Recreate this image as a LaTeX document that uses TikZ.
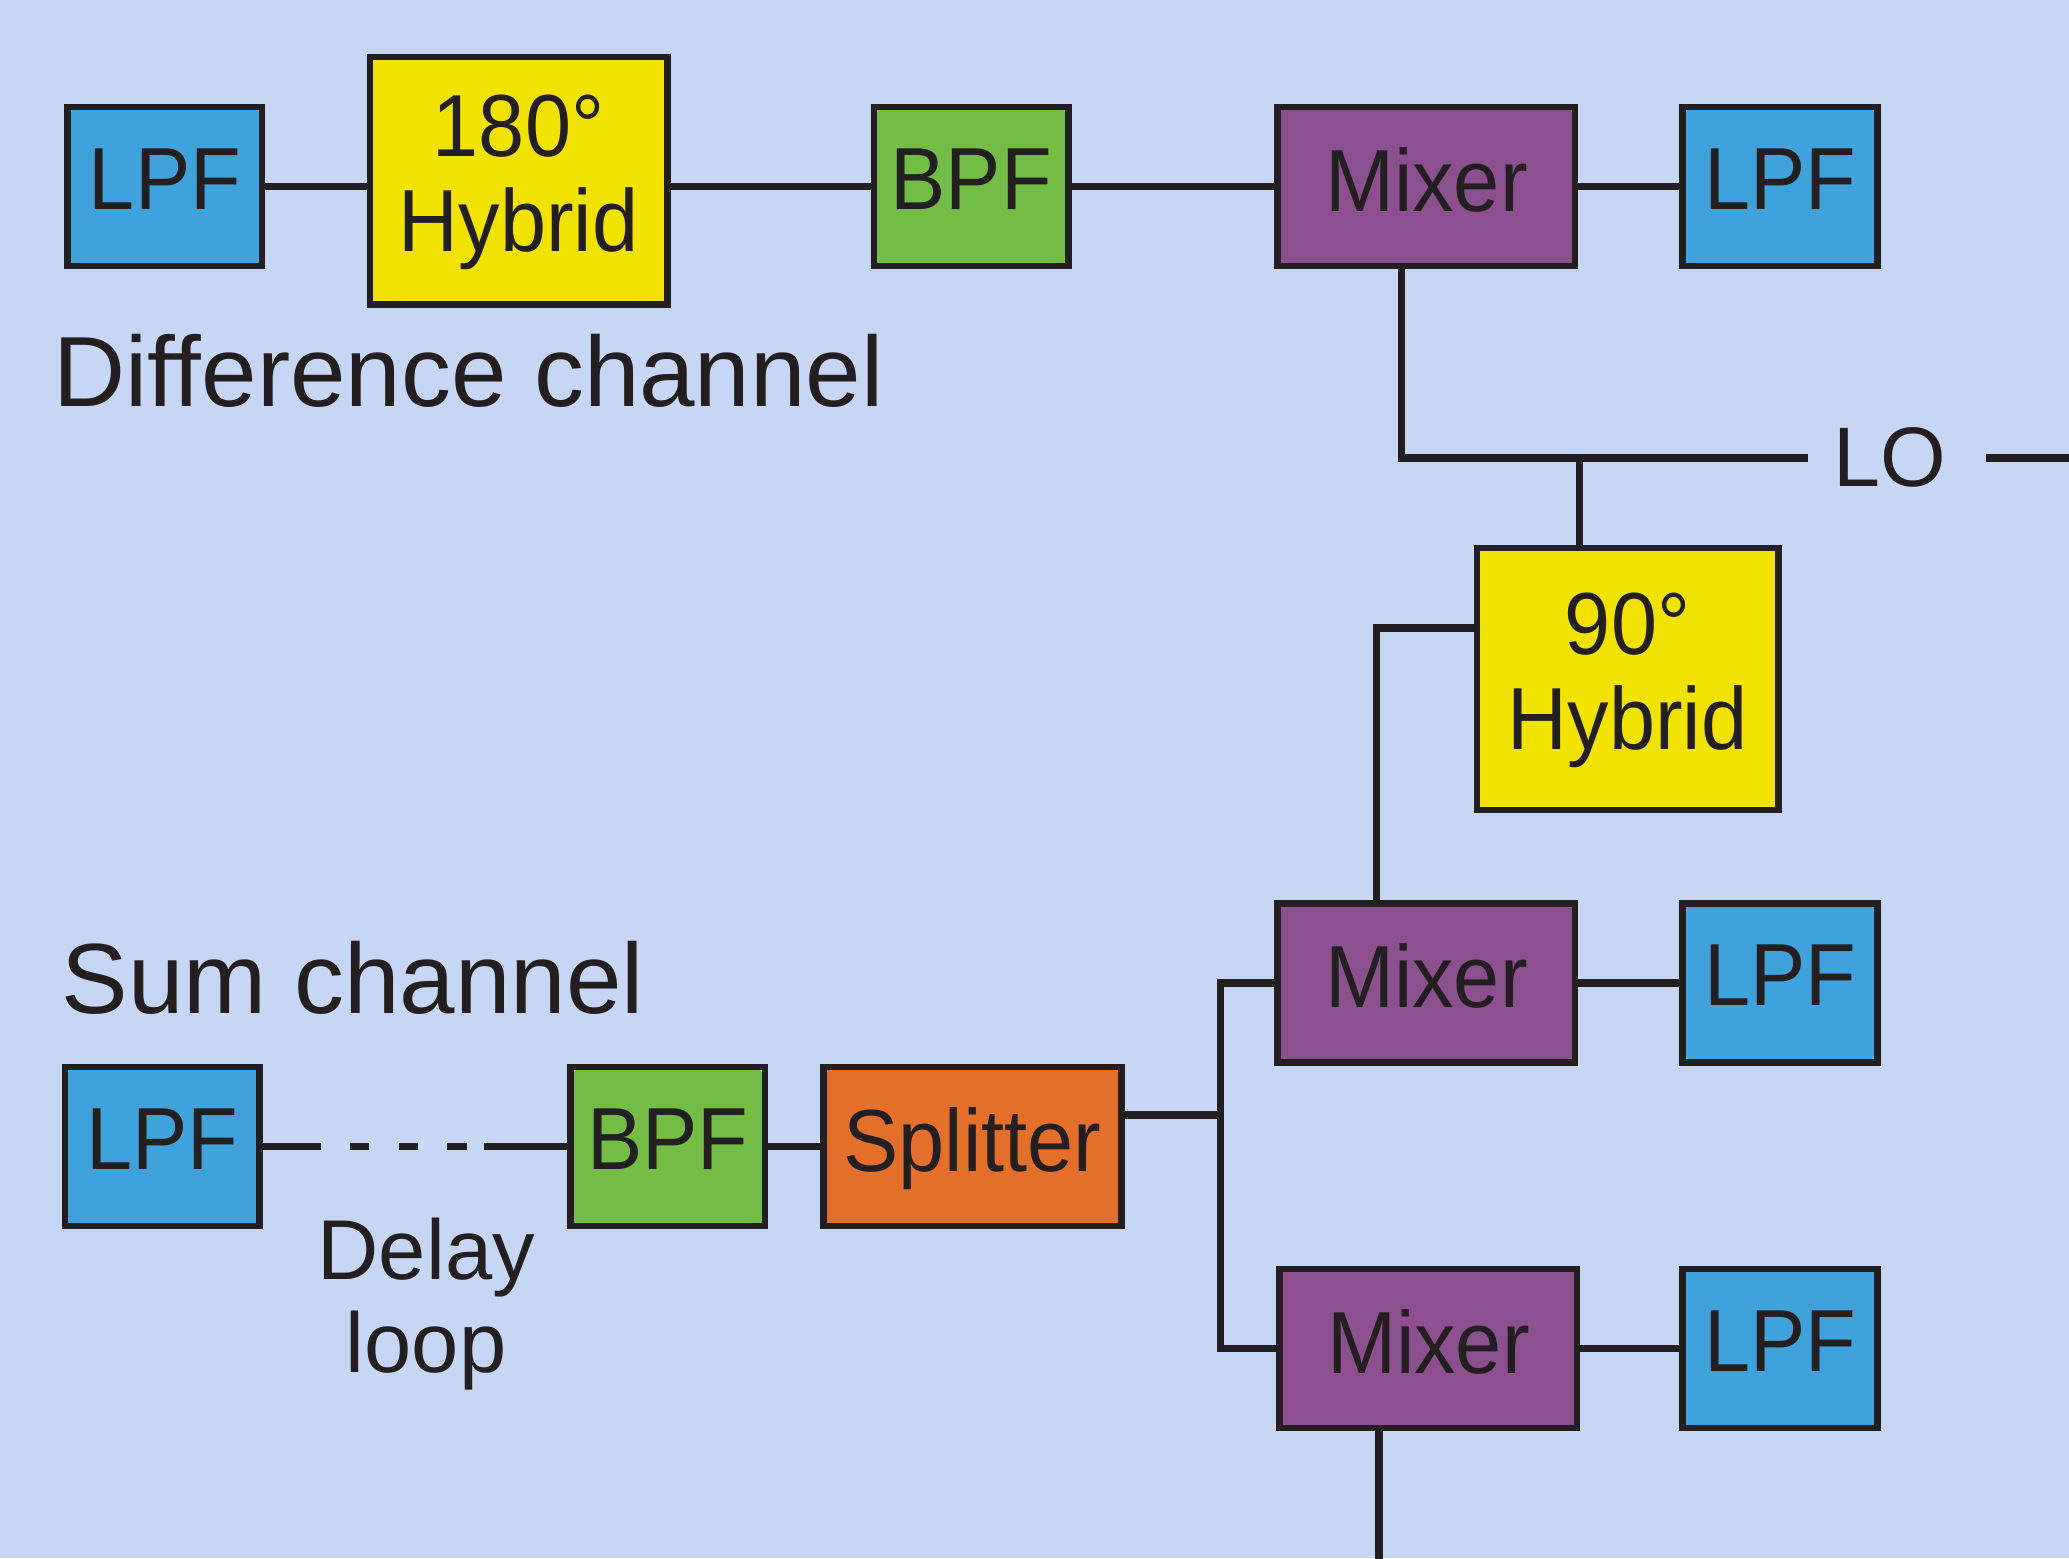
\documentclass[tikz,border=0pt]{standalone}
\usepackage{fontspec}
\setmainfont{Liberation Sans}
\newfontfamily\boxfont[FakeStretch=0.94]{Liberation Sans}
\definecolor{bgcol}{RGB}{200,214,246}
\definecolor{lpfcol}{RGB}{64,162,218}
\definecolor{hybcol}{RGB}{242,226,0}
\definecolor{bpfcol}{RGB}{115,188,70}
\definecolor{mixcol}{RGB}{140,79,143}
\definecolor{splcol}{RGB}{227,111,42}
\definecolor{inkcol}{RGB}{35,31,32}
\tikzset{
  blk/.style={draw=inkcol, line width=1.4pt, inner sep=0pt, text=inkcol,
    font=\boxfont\fontsize{19}{20.5}\selectfont, text depth=3.2pt, align=center},
  smallblk/.style={blk, minimum width=1.474cm, minimum height=1.204cm},
  wideblk/.style={blk, minimum width=2.254cm, minimum height=1.204cm},
  lpfbox/.style={smallblk, fill=lpfcol},
  bpfbox/.style={smallblk, fill=bpfcol},
  mixbox/.style={wideblk, fill=mixcol},
  splbox/.style={wideblk, fill=splcol},
  wire/.style={draw=inkcol, line width=1.6pt},
  lbl/.style={text=inkcol, inner sep=0pt}
}
\begin{document}
\begin{tikzpicture}[x=0.01cm, y=-0.01cm]
\fill[bgcol] (0,0) rectangle (1568,1181);
\useasboundingbox (0,0) rectangle (1568,1181);
% top row
\node[lpfbox] (lpfA) at (125,141.5) {LPF};
\node[blk, fill=hybcol, minimum width=2.254cm, minimum height=1.874cm] (hyb180) at (393,137) {180°\\Hybrid};
\node[bpfbox] (bpfA) at (736,141.5) {BPF};
\node[mixbox] (mixA) at (1081,141.5) {Mixer};
\node[lpfbox] (lpfB) at (1349,141.5) {LPF};
\node[lbl, anchor=base west, font=\fontsize{21.5}{24}\selectfont] (diff) at (40,308) {Difference channel};
% LO
\node[lbl, anchor=base west, font=\fontsize{18.2}{20}\selectfont] (lo) at (1389,369) {LO};
\coordinate (jL) at (1062,347);
\coordinate (jH) at (1197,347);
\coordinate (loL) at (1370,347);
\coordinate (loR) at (1505,347);
\coordinate (loEnd) at (1570,347);
% 90 hybrid
\node[blk, fill=hybcol, minimum width=2.284cm, minimum height=1.984cm] (hyb90) at (1233.5,514.5) {90°\\Hybrid};
% mixers
\node[mixbox] (mixB) at (1081,745) {Mixer};
\node[lpfbox] (lpfC) at (1349,745) {LPF};
\node[mixbox] (mixC) at (1082.5,1022) {Mixer};
\node[lpfbox] (lpfD) at (1349,1022) {LPF};
% sum channel
\node[lbl, anchor=base west, font=\fontsize{21.5}{24}\selectfont] (sum) at (46,768) {Sum channel};
\node[lpfbox] (lpfE) at (123,869) {LPF};
\node[bpfbox] (bpfB) at (506,869) {BPF};
\node[splbox] (split) at (737,869) {Splitter};
\node[lbl, anchor=base, align=center, font=\fontsize{18.3}{19.9}\selectfont] (delay) at (323,1040) {Delay\\loop};
\coordinate (dA) at (243,869);
\coordinate (dB) at (367,869);
\coordinate (bus) at (925,845);
\coordinate (hyL) at (1043,476);
\coordinate (botEnd) at (1045,1183);
% wires top row
\draw[wire] (lpfA.east) -- (lpfA.east -| hyb180.west);
\draw[wire] (hyb180.east |- bpfA.west) -- (bpfA.west);
\draw[wire] (bpfA.east) -- (mixA.west);
\draw[wire] (mixA.east) -- (lpfB.west);
% LO distribution
\draw[wire] (mixA.south -| jL) -- (jL) -- (loL);
\draw[wire] (jH) -- (jH |- hyb90.north);
\draw[wire] (loR) -- (loEnd);
\draw[wire] (hyb90.west |- hyL) -- (hyL) -- (hyL |- mixB.north);
% lower mixers
\draw[wire] (mixB.east) -- (lpfC.west);
\draw[wire] (mixC.east) -- (lpfD.west);
\draw[wire] (split.east |- bus) -- (bus);
\draw[wire] (mixB.west) -- (mixB.west -| bus) -- (mixC.west -| bus) -- (mixC.west);
\draw[wire] (mixC.south -| botEnd) -- (botEnd);
% sum chain
\draw[wire] (lpfE.east) -- (dA);
\draw[wire, dash pattern=on 0.15cm off 0.22cm, dash phase=0.15cm] (dA) -- (dB);
\draw[wire] (dB) -- (bpfB.west);
\draw[wire] (bpfB.east) -- (split.west);
\end{tikzpicture}
\end{document}
